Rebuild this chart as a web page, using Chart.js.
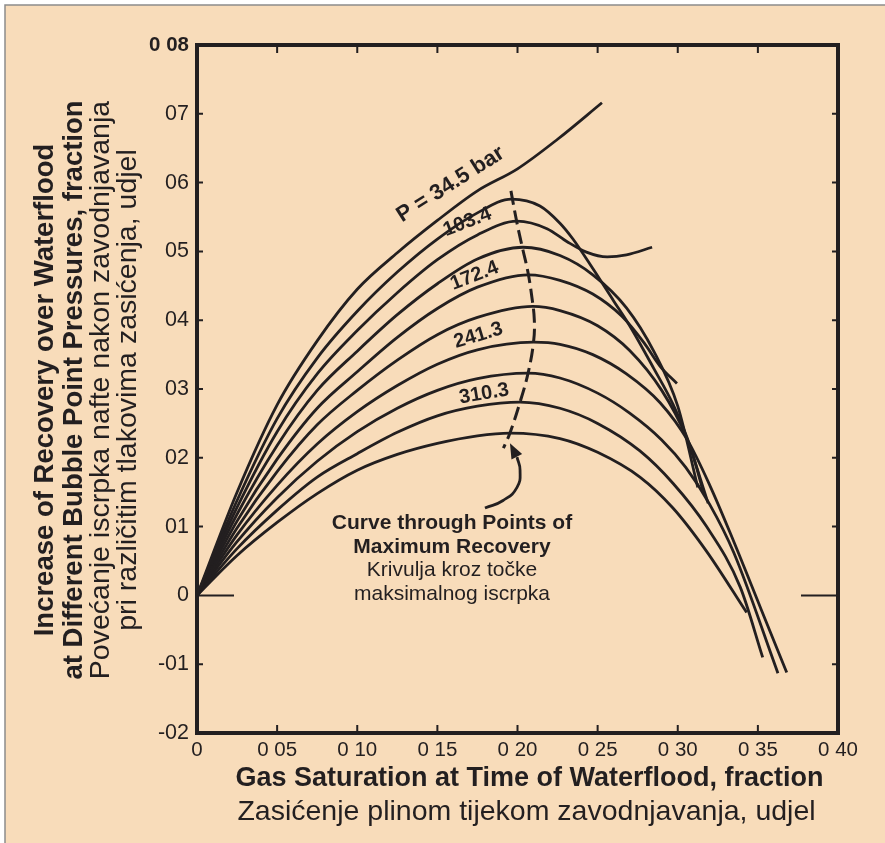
<!DOCTYPE html>
<html>
<head>
<meta charset="utf-8">
<script src="https://cdn.jsdelivr.net/npm/chart.js@4.4.1/dist/chart.umd.min.js"></script>
<style>
  html, body { margin: 0; padding: 0; background: #fff; }
  #chart { display: block; }
</style>
</head>
<body>
<canvas id="chart" width="885" height="843"></canvas>
<script>
// Increase of recovery over waterflood vs gas saturation, per bubble point pressure

const FONT = '"Liberation Sans", Arial, Helvetica, sans-serif';
const INK = '#231f20';
const BG = '#f8dcba';

// Tick labels as printed on the original figure
const xTickLabels = ['0', '0 05', '0 10', '0 15', '0 20', '0 25', '0 30', '0 35', '0 40'];
const yTickLabels = ['-02', '-01', '0', '01', '02', '03', '04', '05', '06', '07', '0 08'];

// Curves: [gas saturation, increase of recovery]
const p345 = [[0, 0], [0.025, 0.0150], [0.05, 0.0277], [0.075, 0.0370], [0.10, 0.0445], [0.125, 0.0498],
  [0.15, 0.0545], [0.175, 0.0588], [0.20, 0.0620], [0.225, 0.0663], [0.2527, 0.0716]];
const p690 = [[0, 0], [0.025, 0.0138], [0.05, 0.0257], [0.075, 0.0345], [0.10, 0.0413], [0.125, 0.0470],
  [0.15, 0.0518], [0.175, 0.0556], [0.1962, 0.0576], [0.214, 0.0566], [0.2265, 0.0541], [0.2346, 0.0518],
  [0.247, 0.0475], [0.26, 0.0428], [0.27, 0.0392], [0.285, 0.0330], [0.297, 0.0278], [0.308, 0.0215], [0.316, 0.0150]];
const p1034 = [[0, 0], [0.025, 0.0128], [0.05, 0.0238], [0.075, 0.0322], [0.10, 0.0385], [0.125, 0.0440],
  [0.15, 0.0488], [0.175, 0.0524], [0.1997, 0.0544], [0.2184, 0.0533], [0.231, 0.0514], [0.243, 0.0499],
  [0.256, 0.0492], [0.268, 0.0495], [0.284, 0.0506]];
const p1379 = [[0, 0], [0.025, 0.0118], [0.05, 0.0218], [0.075, 0.0298], [0.10, 0.0355], [0.125, 0.0408],
  [0.15, 0.0453], [0.175, 0.0489], [0.2034, 0.0506], [0.2265, 0.0494], [0.247, 0.0466], [0.268, 0.0418],
  [0.285, 0.0355], [0.300, 0.0275], [0.3125, 0.0157]];
const p1724 = [[0, 0], [0.025, 0.0108], [0.05, 0.0198], [0.075, 0.0272], [0.10, 0.0325], [0.125, 0.0375],
  [0.15, 0.0417], [0.175, 0.0448], [0.2068, 0.0466], [0.2265, 0.0458], [0.247, 0.0438], [0.265, 0.0406],
  [0.279, 0.0367], [0.289, 0.0333], [0.2995, 0.0308]];
const p2068 = [[0, 0], [0.025, 0.0098], [0.05, 0.0180], [0.075, 0.0248], [0.10, 0.0298], [0.125, 0.0342],
  [0.15, 0.0379], [0.175, 0.0404], [0.2095, 0.0420], [0.2265, 0.0414], [0.25, 0.0392], [0.27, 0.0356],
  [0.29, 0.0298], [0.305, 0.0232], [0.319, 0.0134]];
const p2413 = [[0, 0], [0.025, 0.0088], [0.05, 0.0160], [0.075, 0.0220], [0.10, 0.0267], [0.125, 0.0305],
  [0.15, 0.0336], [0.175, 0.0357], [0.2100, 0.0368], [0.2265, 0.0365], [0.247, 0.0350], [0.268, 0.0322],
  [0.289, 0.0280], [0.306, 0.0226], [0.320, 0.0160], [0.335, 0.0078], [0.352, -0.0020], [0.368, -0.0112]];
const p2758 = [[0, 0], [0.025, 0.0078], [0.05, 0.0142], [0.075, 0.0195], [0.10, 0.0238], [0.125, 0.0272],
  [0.15, 0.0298], [0.175, 0.0315], [0.2066, 0.0323], [0.2265, 0.0316], [0.25, 0.0294], [0.27, 0.0265],
  [0.29, 0.0226], [0.305, 0.0186], [0.32, 0.0132], [0.335, 0.0062], [0.3625, -0.0113]];
const p3103 = [[0, 0], [0.025, 0.0068], [0.05, 0.0124], [0.075, 0.0172], [0.10, 0.0206], [0.125, 0.0237],
  [0.15, 0.0261], [0.175, 0.0275], [0.2016, 0.0281], [0.2265, 0.0272], [0.25, 0.0250], [0.2764, 0.0210],
  [0.297, 0.0163], [0.318, 0.0100], [0.339, 0.0012], [0.353, -0.0090]];
const p3447 = [[0, 0], [0.025, 0.0058], [0.05, 0.0106], [0.075, 0.0148], [0.10, 0.0182], [0.125, 0.0205],
  [0.15, 0.0221], [0.175, 0.0232], [0.1953, 0.0236], [0.2265, 0.0228], [0.25, 0.0208], [0.2764, 0.0172],
  [0.297, 0.0127], [0.318, 0.0064], [0.343, -0.0025]];

// Dashed curve through the maxima, and the pointer to it
const maxRecovery = [[0.1959, 0.0588], [0.1997, 0.0541], [0.2034, 0.0502], [0.2065, 0.0470], [0.2090, 0.0433],
  [0.2105, 0.0400], [0.2100, 0.0368], [0.2066, 0.0323], [0.2016, 0.0281], [0.1953, 0.0236], [0.1912, 0.0214]];
const arrowShaft = [[0.1797, 0.0127], [0.1910, 0.0138], [0.1997, 0.0157], [0.2016, 0.0182], [0.1997, 0.0201]];
const arrowTip = [0.1953, 0.0221];

const curveLabels = ['P = 34.5 bar', '103.4', '172.4', '241.3', '310.3'];
// where each label sits: [saturation, recovery, angle in degrees]
const curveLabelAt = [[0.1603, 0.0590, -32.5], [0.1699, 0.0535, -20.9], [0.1745, 0.0457, -21.4],
  [0.1766, 0.0370, -16.7], [0.1797, 0.0285, -9.5]];

const curves = [p345, p690, p1034, p1379, p1724, p2068, p2413, p2758, p3103, p3447];

function toXY(pts) {
  return pts.map(([x, y]) => ({ x, y }));
}

const datasets = curves.map(pts => ({
  data: toXY(pts),
  showLine: true,
  borderColor: INK,
  borderWidth: 2.8,
  pointRadius: 0,
  cubicInterpolationMode: 'monotone'
}));

datasets.push({
  data: toXY(maxRecovery),
  showLine: true,
  borderColor: INK,
  borderWidth: 3,
  borderDash: [14, 6],
  pointRadius: 0,
  tension: 0.4
});

datasets.push({
  data: toXY(arrowShaft),
  showLine: true,
  borderColor: INK,
  borderWidth: 2.8,
  pointRadius: 0,
  tension: 0.5
});

function text(c, str, x, y, font, angle, baseline) {
  c.save();
  c.font = font;
  c.translate(x, y);
  if (angle) c.rotate(angle);
  c.textAlign = 'center';
  c.textBaseline = baseline || 'middle';
  c.fillText(str, 0, 0);
  c.restore();
}

const decor = {
  id: 'decor',
  beforeDraw(chart) {
    const c = chart.ctx;
    c.save();
    c.fillStyle = '#fff';
    c.fillRect(0, 0, chart.width, chart.height);
    c.fillStyle = BG;
    c.fillRect(5, 5, chart.width, chart.height);
    c.strokeStyle = '#8c8c8c';
    c.lineWidth = 1.5;
    c.beginPath();
    c.moveTo(5, chart.height);
    c.lineTo(5, 5);
    c.lineTo(chart.width, 5);
    c.stroke();
    c.restore();
  },
  afterDraw(chart) {
    const c = chart.ctx;
    const a = chart.chartArea;
    const x = chart.scales.x;
    const y = chart.scales.y;
    c.save();
    c.strokeStyle = INK;
    c.fillStyle = INK;

    // frame
    c.lineWidth = 4;
    c.strokeRect(a.left, a.top, a.right - a.left, a.bottom - a.top);

    // inward ticks, long marks at zero on both sides
    c.lineWidth = 2;
    c.beginPath();
    x.ticks.forEach(t => {
      const px = x.getPixelForValue(t.value);
      if (px < a.left + 3 || px > a.right - 3) return;
      c.moveTo(px, a.bottom); c.lineTo(px, a.bottom - 8);
      c.moveTo(px, a.top); c.lineTo(px, a.top + 8);
    });
    y.ticks.forEach(t => {
      const py = y.getPixelForValue(t.value);
      if (py < a.top + 3 || py > a.bottom - 3) return;
      const len = Math.abs(t.value) < 1e-9 ? 37 : 6;
      c.moveTo(a.left, py); c.lineTo(a.left + len, py);
      c.moveTo(a.right, py); c.lineTo(a.right - len, py);
    });
    c.stroke();

    // arrow head
    const last = arrowShaft[arrowShaft.length - 1];
    const bx = x.getPixelForValue(last[0]), by = y.getPixelForValue(last[1]);
    const tx = x.getPixelForValue(arrowTip[0]), ty = y.getPixelForValue(arrowTip[1]);
    const ang = Math.atan2(ty - by, tx - bx);
    c.save();
    c.translate(tx, ty);
    c.rotate(ang);
    c.beginPath();
    c.moveTo(0, 0);
    c.lineTo(-15, -6);
    c.lineTo(-15, 6);
    c.closePath();
    c.fill();
    c.restore();

    // labels on the curves
    curveLabels.forEach((s, i) => {
      const [sx, sy, deg] = curveLabelAt[i];
      const size = i === 0 ? 22 : 20;
      text(c, s, x.getPixelForValue(sx), y.getPixelForValue(sy), 'bold ' + size + 'px ' + FONT, deg * Math.PI / 180, 'alphabetic');
    });

    // note for the dashed curve
    const nx = 452;
    text(c, 'Curve through Points of', nx, 523, 'bold 21px ' + FONT);
    text(c, 'Maximum Recovery', nx, 547, 'bold 21px ' + FONT);
    text(c, 'Krivulja kroz točke', nx, 570.5, '21px ' + FONT);
    text(c, 'maksimalnog iscrpka', nx, 594, '21px ' + FONT);

    // axis titles
    const cx = (a.left + a.right) / 2 + 12;
    text(c, 'Gas Saturation at Time of Waterflood, fraction', cx, 779, 'bold 27px ' + FONT);
    text(c, 'Zasićenje plinom tijekom zavodnjavanja, udjel', cx - 3, 812, '28.5px ' + FONT);

    const cy = 390;
    const up = -Math.PI / 2;
    text(c, 'Increase of Recovery over Waterflood', 45, cy, 'bold 27.5px ' + FONT, up);
    text(c, 'at Different Bubble Point Pressures, fraction', 74, cy, 'bold 27.5px ' + FONT, up);
    text(c, 'Povećanje iscrpka nafte nakon zavodnjavanja', 101, cy, '28.5px ' + FONT, up);
    text(c, 'pri različitim tlakovima zasićenja, udjel', 128, cy, '28.5px ' + FONT, up);

    c.restore();
  }
};

new Chart(document.getElementById('chart'), {
  type: 'scatter',
  data: { datasets },
  options: {
    responsive: false,
    animation: false,
    events: [],
    layout: { padding: { top: 45, right: 47, bottom: 0, left: 0 } },
    plugins: { legend: { display: false }, tooltip: { enabled: false } },
    scales: {
      x: {
        type: 'linear', min: 0, max: 0.4,
        afterFit: s => { s.height = 110; },
        grid: { display: false, drawTicks: false },
        border: { display: false },
        ticks: {
          stepSize: 0.05, padding: 5, color: INK,
          font: { family: FONT, size: 20.5 },
          callback: (v, i) => xTickLabels[i]
        }
      },
      y: {
        type: 'linear', min: -0.02, max: 0.08,
        afterFit: s => { s.width = 197; },
        grid: { display: false, drawTicks: false },
        border: { display: false },
        ticks: {
          stepSize: 0.01, padding: 8, color: INK,
          font: ctx => ({ family: FONT, size: ctx.index === 10 ? 20.5 : 21.5, weight: ctx.index === 10 ? 'bold' : 'normal' }),
          callback: (v, i) => yTickLabels[i]
        }
      }
    }
  },
  plugins: [decor]
});
</script>
</body>
</html>
